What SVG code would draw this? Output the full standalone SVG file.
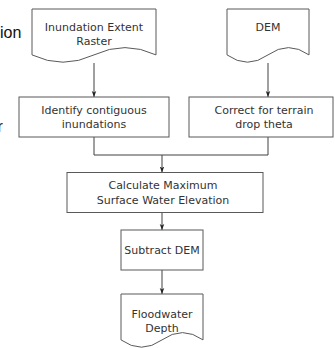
<svg xmlns="http://www.w3.org/2000/svg" width="335" height="348" viewBox="0 0 335 348">
<style>
.box{fill:#fff;stroke:#595959;stroke-width:1}
.t{font-family:"DejaVu Sans",Verdana,sans-serif;font-size:11px;fill:#333;text-anchor:middle}
.frag{font-family:"Liberation Sans",Arial,sans-serif;font-size:16px;fill:#111}
.edge{fill:none;stroke:#404040;stroke-width:1}
</style>
<defs>
<marker id="arr" viewBox="0 0 8 8" refX="8" refY="4" markerWidth="6" markerHeight="6" markerUnits="userSpaceOnUse" orient="auto">
<path d="M0,1 L8,4 L0,7 L2,4 Z" fill="#222"/>
</marker>
</defs>
<rect width="335" height="348" fill="#fff"/>
<text class="frag" x="0" y="38">ion</text>
<text class="frag" x="-2.5" y="132">r</text>
<g id="connectors">
<path class="edge" d="M94,63 V97" marker-end="url(#arr)"/>
<path class="edge" d="M268,63 V97" marker-end="url(#arr)"/>
<path class="edge" d="M94,137 V155 H268 V137"/>
<path class="edge" d="M162,155 V172.5" marker-end="url(#arr)"/>
<path class="edge" d="M162,212.5 V230" marker-end="url(#arr)"/>
<path class="edge" d="M162,270 V294" marker-end="url(#arr)"/>
</g>
<g id="inundation">
<path class="box" d="M32,9 H156 V54.9 Q125,40.3 94,54.9 Q63,69.5 32,54.9 Z"/>
<text class="t" x="94" y="31">Inundation Extent</text>
<text class="t" x="94" y="45">Raster</text>
</g>
<g id="dem">
<path class="box" d="M227,9 H309 V54.9 Q288.5,40.3 268,54.9 Q247.5,69.5 227,54.9 Z"/>
<text class="t" x="268" y="31">DEM</text>
</g>
<g id="identify">
<rect class="box" x="19" y="97" width="150" height="40"/>
<text class="t" x="94" y="114">Identify contiguous</text>
<text class="t" x="94" y="128">inundations</text>
</g>
<g id="correct">
<rect class="box" x="189" y="97" width="144" height="40"/>
<text class="t" x="264" y="114">Correct for terrain</text>
<text class="t" x="264" y="128">drop theta</text>
</g>
<g id="calculate">
<rect class="box" x="67" y="172.5" width="196" height="40"/>
<text class="t" x="163" y="189">Calculate Maximum</text>
<text class="t" x="163" y="204">Surface Water Elevation</text>
</g>
<g id="subtract">
<rect class="box" x="121" y="230" width="82" height="40"/>
<text class="t" x="162" y="254">Subtract DEM</text>
</g>
<g id="floodwater">
<path class="box" d="M121,294 H203 V339.9 Q182.5,325.3 162,339.9 Q141.5,354.5 121,339.9 Z"/>
<text class="t" x="162" y="318">Floodwater</text>
<text class="t" x="162" y="332">Depth</text>
</g>
</svg>
